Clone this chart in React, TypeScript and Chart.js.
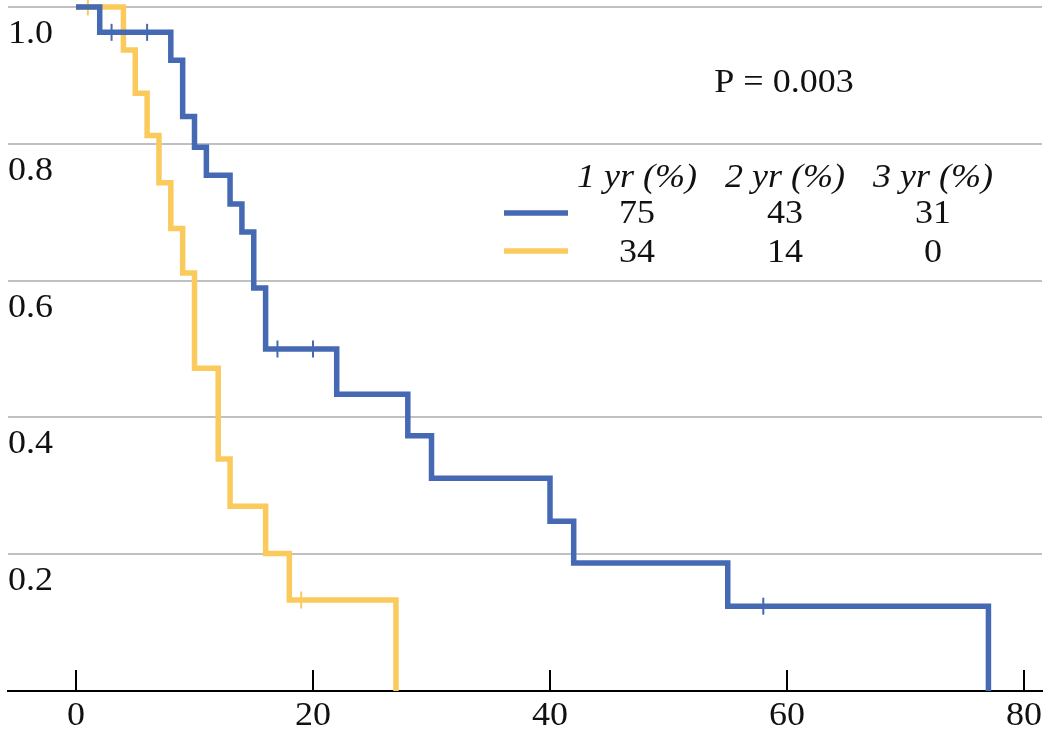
import React, { useEffect, useRef } from "react";
import { Chart, registerables } from "chart.js";

Chart.register(...registerables);

// ---- Data ----
const blueTimes = [0, 2, 8, 9, 10, 11, 13, 14, 15, 16, 22, 28, 30, 40, 42, 55, 77];
const blueSurv = [1.0, 0.963, 0.922, 0.84, 0.795, 0.754, 0.712, 0.671, 0.589, 0.5, 0.434, 0.373, 0.311, 0.248, 0.187, 0.124, 0];
const blueCensorTimes = [3, 6, 17, 20, 58];

const yellowTimes = [0, 4, 5, 6, 7, 8, 9, 10, 12, 13, 16, 18, 27];
const yellowSurv = [1.0, 0.937, 0.874, 0.812, 0.743, 0.676, 0.611, 0.472, 0.339, 0.27, 0.201, 0.133, 0];
const yellowCensorTimes = [1, 19];

const xTickValues = [0, 20, 40, 60, 80];
const xTickLabels = ["0", "20", "40", "60", "80"];
const yTickValues = [0.2, 0.4, 0.6, 0.8, 1.0];
const yTickLabels = ["0.2", "0.4", "0.6", "0.8", "1.0"];

const pValueText = "P = 0.003";
const tableHeaders = ["1 yr (%)", "2 yr (%)", "3 yr (%)"];
const blueRates = ["75", "43", "31"];
const yellowRates = ["34", "14", "0"];

// ---- Styles ----
const BLUE = "#4569B2";
const YELLOW = "#FBCA5C";
const GRID = "#c0c0c0";
const TEXT = "#111111";
const FONT = "34px 'Liberation Serif', 'Times New Roman', serif";
const FONT_I = "italic 34px 'Liberation Serif', 'Times New Roman', serif";
const SX = 1.06;
const LINE_W = 5.5;

function survAt(times: number[], surv: number[], t: number) {
  let s = surv[0];
  for (let i = 0; i < times.length; i++) if (times[i] <= t) s = surv[i];
  return s;
}

function drawText(ctx: CanvasRenderingContext2D, s: string, x: number, y: number, font: string, align: CanvasTextAlign) {
  ctx.save();
  ctx.font = font;
  ctx.fillStyle = TEXT;
  ctx.textAlign = align;
  ctx.textBaseline = "alphabetic";
  ctx.translate(x, y);
  ctx.scale(SX, 1);
  ctx.fillText(s, 0, 0);
  ctx.restore();
}

const decorPlugin = {
  id: "kmDecor",
  afterDraw(chart: any) {
    const ctx: CanvasRenderingContext2D = chart.ctx;
    const xs = chart.scales.x;
    const ys = chart.scales.y;
    const area = chart.chartArea;

    // x-axis tick marks pointing up
    ctx.save();
    ctx.strokeStyle = "#000";
    ctx.lineWidth = 2;
    xTickValues.forEach((v) => {
      const px = Math.round(xs.getPixelForValue(v));
      ctx.beginPath();
      ctx.moveTo(px, area.bottom);
      ctx.lineTo(px, area.bottom - 21);
      ctx.stroke();
    });
    ctx.restore();

    // x tick labels
    xTickValues.forEach((v, i) => {
      drawText(ctx, xTickLabels[i], xs.getPixelForValue(v), area.bottom + 34, FONT, "center");
    });

    // y tick labels (below their grid lines, left aligned)
    yTickValues.forEach((v, i) => {
      drawText(ctx, yTickLabels[i], area.left, ys.getPixelForValue(v) + 36, FONT, "left");
    });

    // P value
    drawText(ctx, pValueText, 784, 92, FONT, "center");

    // survival table
    const colX = [637, 785, 933];
    tableHeaders.forEach((h, i) => drawText(ctx, h, colX[i], 187, FONT_I, "center"));
    blueRates.forEach((r, i) => drawText(ctx, r, colX[i], 223, FONT, "center"));
    yellowRates.forEach((r, i) => drawText(ctx, r, colX[i], 262, FONT, "center"));

    // legend swatches
    ctx.save();
    ctx.lineWidth = LINE_W;
    ctx.lineCap = "butt";
    ctx.strokeStyle = BLUE;
    ctx.beginPath();
    ctx.moveTo(504, 213);
    ctx.lineTo(568, 213);
    ctx.stroke();
    ctx.strokeStyle = YELLOW;
    ctx.beginPath();
    ctx.moveTo(504, 251);
    ctx.lineTo(568, 251);
    ctx.stroke();
    ctx.restore();
  },
};

export default function App() {
  const canvasRef = useRef<HTMLCanvasElement | null>(null);

  useEffect(() => {
    const canvas = canvasRef.current;
    if (!canvas) return;

    const blueData = blueTimes.map((t, i) => ({ x: t, y: blueSurv[i] }));
    const yellowData = yellowTimes.map((t, i) => ({ x: t, y: yellowSurv[i] }));
    const blueCensor = blueCensorTimes.map((t) => ({ x: t, y: survAt(blueTimes, blueSurv, t) }));
    const yellowCensor = yellowCensorTimes.map((t) => ({ x: t, y: survAt(yellowTimes, yellowSurv, t) }));

    const chart = new Chart(canvas, {
      type: "line",
      data: {
        datasets: [
          {
            data: blueCensor,
            showLine: false,
            pointStyle: "line",
            rotation: 90,
            pointRadius: 8.5,
            pointBorderWidth: 2,
            pointBorderColor: BLUE,
            borderColor: BLUE,
            order: 0,
            clip: false,
          } as any,
          {
            data: blueData,
            stepped: "before",
            borderColor: BLUE,
            borderWidth: LINE_W,
            borderJoinStyle: "miter",
            borderCapStyle: "butt",
            pointRadius: 0,
            fill: false,
            order: 1,
            clip: false,
          } as any,
          {
            data: yellowCensor,
            showLine: false,
            pointStyle: "line",
            rotation: 90,
            pointRadius: 8.5,
            pointBorderWidth: 2,
            pointBorderColor: YELLOW,
            borderColor: YELLOW,
            order: 2,
            clip: false,
          } as any,
          {
            data: yellowData,
            stepped: "before",
            borderColor: YELLOW,
            borderWidth: LINE_W,
            borderJoinStyle: "miter",
            borderCapStyle: "butt",
            pointRadius: 0,
            fill: false,
            order: 3,
            clip: false,
          } as any,
        ],
      },
      options: {
        responsive: false,
        animation: false,
        devicePixelRatio: 1,
        layout: { autoPadding: false, padding: { left: 8, right: 8, top: 7, bottom: 40 } },
        plugins: { legend: { display: false }, tooltip: { enabled: false } },
        events: [],
        scales: {
          x: {
            type: "linear",
            min: -5.74,
            max: 81.52,
            ticks: { display: false },
            grid: { display: false, drawTicks: false },
            border: { display: true, color: "#000", width: 2 },
            afterFit: (s: any) => {
              s.height = 0;
            },
          },
          y: {
            type: "linear",
            min: 0,
            max: 1,
            ticks: { display: false, stepSize: 0.2 },
            grid: {
              drawTicks: false,
              lineWidth: 2,
              color: (c: any) => (c.tick && Math.abs(c.tick.value) < 1e-9 ? "rgba(0,0,0,0)" : GRID),
            },
            border: { display: false },
            afterFit: (s: any) => {
              s.width = 0;
            },
          },
        },
      },
      plugins: [decorPlugin],
    } as any);

    return () => chart.destroy();
  }, []);

  return (
    <div style={{ position: "absolute", left: 0, top: 0, width: 1050, height: 731, background: "#fff" }}>
      <canvas ref={canvasRef} width={1050} height={731} style={{ display: "block" }} />
    </div>
  );
}
